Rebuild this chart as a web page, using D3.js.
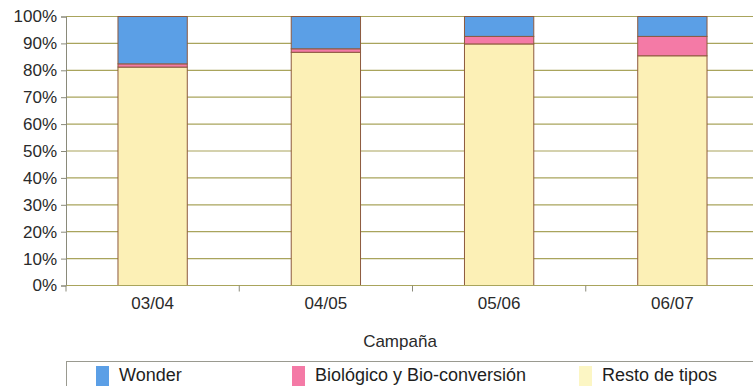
<!DOCTYPE html>
<html>
<head>
<meta charset="utf-8">
<script src="https://cdn.jsdelivr.net/npm/d3@7"></script>
<style>
  html, body { margin: 0; padding: 0; background: #fff; }
  svg { display: block; font-family: "Liberation Sans", Arial, sans-serif; }
</style>
</head>
<body>
<svg id="chart" width="753" height="386"></svg>
<script>
// Campaigns on the x axis
const campaigns = ["03/04", "04/05", "05/06", "06/07"];
// Share of each type per campaign (%)
const resto  = [81.2, 86.7, 89.8, 85.4];
const bio    = [1.2, 1.3, 2.8, 7.2];
const wonder = [17.6, 12.0, 7.4, 7.4];
const yTicks = [0, 10, 20, 30, 40, 50, 60, 70, 80, 90, 100];

const seriesKeys = ["resto", "bio", "wonder"];
const colors = { wonder: "#5b9fe6", bio: "#f47aa6", resto: "#fcf0b6" };
const legendColors = { wonder: "#5b9fe6", bio: "#f47aa6", resto: "#fcf6c4" };

const rows = campaigns.map((c, i) => ({ campaign: c, resto: resto[i], bio: bio[i], wonder: wonder[i] }));
const stacked = d3.stack().keys(seriesKeys)(rows);

const svg = d3.select("#chart");
const plotLeft = 66, plotRight = 759, plotTop = 16.5, plotBottom = 285.5;

const x = d3.scaleBand().domain(campaigns).range([plotLeft, plotRight]).paddingInner(0.6).paddingOuter(0.3);
const y = d3.scaleLinear().domain([0, 100]).range([plotBottom, plotTop]);

// Horizontal gridlines
svg.append("g").selectAll("line").data(yTicks.slice(1)).join("line")
  .attr("x1", plotLeft).attr("x2", 753)
  .attr("y1", d => y(d)).attr("y2", d => y(d))
  .attr("stroke", "#a9a45c").attr("stroke-width", 1.2);

// Stacked bars
svg.append("g").selectAll("g").data(stacked).join("g")
  .attr("fill", s => colors[s.key])
  .selectAll("rect").data(s => s).join("rect")
  .attr("x", d => x(d.data.campaign))
  .attr("width", x.bandwidth())
  .attr("y", d => y(d[1]))
  .attr("height", d => y(d[0]) - y(d[1]))
  .attr("stroke", "#8d5a3e").attr("stroke-width", 1);

// Y axis
const yAxis = d3.axisLeft(y).tickValues(yTicks).tickFormat(d => d + "%").tickSize(5).tickPadding(4);
const gy = svg.append("g").attr("transform", `translate(${plotLeft},0)`).call(yAxis);
gy.select(".domain").attr("stroke", "#8a8a7a");
gy.selectAll(".tick line").attr("stroke", "#8a8a7a");
gy.selectAll(".tick text").attr("font-size", 17).attr("fill", "#2a2a2a").attr("font-family", "Liberation Sans, Arial, sans-serif");

// X axis: category labels under bars
const xAxis = d3.axisBottom(x).tickSize(0).tickPadding(11);
const gx = svg.append("g").attr("transform", `translate(0,${plotBottom})`).call(xAxis);
gx.select(".domain").remove();
gx.selectAll(".tick text").attr("font-size", 17).attr("fill", "#2a2a2a").attr("font-family", "Liberation Sans, Arial, sans-serif");

// Baseline and category boundary ticks
svg.append("line").attr("x1", plotLeft).attr("x2", 753).attr("y1", plotBottom).attr("y2", plotBottom)
  .attr("stroke", "#a9a45c").attr("stroke-width", 1.2);
const step = x.step();
const bounds = campaigns.map((c, i) => plotLeft + i * step);
svg.append("g").selectAll("line").data(bounds).join("line")
  .attr("x1", d => d).attr("x2", d => d)
  .attr("y1", plotBottom).attr("y2", plotBottom + 6)
  .attr("stroke", "#8a8a7a");

// Axis title
svg.append("text").attr("x", 400).attr("y", 347).attr("text-anchor", "middle")
  .attr("font-size", 17).attr("fill", "#2a2a2a").text("Campaña");

// Legend
const legend = svg.append("g");
legend.append("rect").attr("x", 66.5).attr("y", 361.5).attr("width", 700).attr("height", 40)
  .attr("fill", "#fff").attr("stroke", "#9a9a90").attr("stroke-width", 1);
const legendItems = [
  { key: "wonder", label: "Wonder", x: 96 },
  { key: "bio", label: "Biológico y Bio-conversión", x: 292 },
  { key: "resto", label: "Resto de tipos", x: 579 }
];
const li = legend.selectAll("g.item").data(legendItems).join("g").attr("class", "item");
li.append("rect").attr("x", d => d.x).attr("y", 366).attr("width", 13).attr("height", 20)
  .attr("fill", d => legendColors[d.key]);
li.append("text").attr("x", d => d.x + 23).attr("y", 381)
  .attr("font-size", 18).attr("fill", "#1e1e1e").text(d => d.label);
</script>
</body>
</html>
